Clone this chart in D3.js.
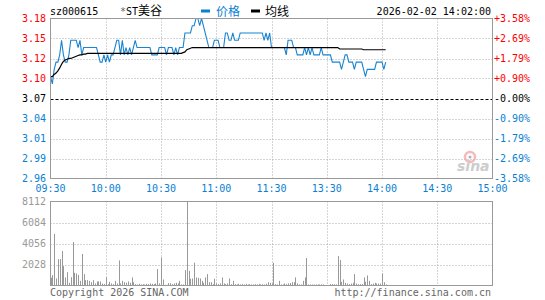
<!DOCTYPE html>
<html>
<head>
<meta charset="utf-8">
<script src="https://cdn.jsdelivr.net/npm/d3@7"></script>
<style>
  html, body { margin: 0; padding: 0; background: #fff; }
  svg { display: block; }
  text { font-family: "DejaVu Sans Mono", "Liberation Mono", monospace; font-size: 10px; }
  .cjk { font-family: "Noto Sans CJK SC", sans-serif; font-size: 12px; }
</style>
</head>
<body>
<svg id="chart" width="545" height="300"></svg>
<script>
const code = "sz000615"
const stockName = "*ST美谷"
const stamp = "2026-02-02 14:02:00"
const preClose = 3.07
const maxPct = 3.58

// per minute, 09:30 = minute 0, 13:00 continues at minute 120
const prices = [
  3.10,3.09,3.11,3.12,3.12,3.13,3.15,3.13,3.12,3.12,
  3.13,3.15,3.15,3.15,3.15,3.14,3.15,3.13,3.14,3.14,
  3.14,3.14,3.14,3.14,3.14,3.14,3.13,3.12,3.12,3.13,
  3.12,3.13,3.12,3.13,3.13,3.14,3.15,3.15,3.13,3.15,
  3.13,3.14,3.13,3.14,3.13,3.14,3.15,3.14,3.14,3.14,
  3.14,3.14,3.14,3.14,3.14,3.13,3.13,3.13,3.13,3.14,
  3.14,3.14,3.14,3.13,3.14,3.14,3.14,3.13,3.14,3.13,
  3.14,3.14,3.14,3.16,3.16,3.16,3.16,3.17,3.17,3.18,
  3.18,3.17,3.18,3.17,3.16,3.15,3.14,3.14,3.14,3.15,
  3.15,3.15,3.14,3.14,3.14,3.16,3.16,3.15,3.15,3.16,
  3.15,3.15,3.15,3.16,3.16,3.16,3.16,3.16,3.16,3.16,
  3.16,3.16,3.16,3.16,3.16,3.16,3.15,3.16,3.15,3.16,
  3.14,3.14,3.14,3.14,3.14,3.14,3.14,3.14,3.13,3.15,
  3.15,3.15,3.14,3.14,3.13,3.13,3.13,3.13,3.14,3.13,
  3.14,3.13,3.14,3.13,3.13,3.13,3.13,3.14,3.13,3.13,
  3.13,3.13,3.13,3.12,3.12,3.12,3.12,3.12,3.11,3.12,
  3.13,3.13,3.12,3.12,3.12,3.11,3.12,3.12,3.12,3.12,
  3.11,3.10,3.11,3.11,3.11,3.11,3.11,3.12,3.12,3.12,
  3.12,3.11,3.12
]

const avgPrices = [
  3.100,3.100,3.103,3.105,3.108,3.112,3.117,3.121,3.123,3.124,
  3.125,3.125,3.126,3.127,3.128,3.129,3.130,3.130,3.131,3.131,
  3.132,3.132,3.132,3.132,3.132,3.132,3.132,3.132,3.132,3.132,
  3.132,3.132,3.132,3.132,3.132,3.132,3.132,3.132,3.132,3.132,
  3.132,3.132,3.132,3.132,3.132,3.132,3.132,3.132,3.132,3.132,
  3.132,3.132,3.132,3.132,3.132,3.132,3.132,3.132,3.132,3.132,
  3.132,3.132,3.132,3.132,3.132,3.132,3.132,3.132,3.132,3.132,
  3.132,3.132,3.133,3.134,3.137,3.138,3.139,3.140,3.140,3.140,
  3.140,3.140,3.140,3.140,3.140,3.140,3.140,3.140,3.140,3.140,
  3.140,3.140,3.140,3.140,3.140,3.140,3.140,3.140,3.140,3.140,
  3.140,3.140,3.140,3.140,3.140,3.140,3.140,3.140,3.140,3.140,
  3.140,3.140,3.140,3.140,3.140,3.140,3.140,3.140,3.140,3.140,
  3.140,3.140,3.140,3.140,3.140,3.140,3.140,3.140,3.140,3.140,
  3.140,3.140,3.140,3.140,3.140,3.140,3.140,3.140,3.140,3.140,
  3.140,3.140,3.140,3.140,3.140,3.140,3.140,3.140,3.140,3.140,
  3.140,3.140,3.140,3.140,3.140,3.140,3.140,3.138,3.138,3.138,
  3.138,3.138,3.138,3.138,3.138,3.138,3.138,3.138,3.138,3.138,
  3.137,3.137,3.137,3.137,3.137,3.137,3.137,3.137,3.137,3.137,
  3.137,3.137,3.137
]

const volumes = [
  750,1000,4980,680,2550,2550,3330,1870,780,1290,
  260,810,4200,1230,1160,1030,450,3040,1100,520,
  520,450,320,520,200,390,390,390,200,150,
  780,130,360,200,130,450,200,2420,200,450,
  320,260,390,260,780,320,130,100,160,100,
  130,100,160,130,200,160,130,200,1580,200,
  2710,580,60,60,230,230,130,200,260,200,
  450,100,100,1490,8112,1420,650,680,2200,780,
  740,680,450,260,780,1100,320,320,130,650,
  200,130,200,780,200,130,200,680,130,450,
  130,100,160,100,130,100,160,100,130,100,
  100,130,100,160,100,130,100,160,320,260,
  190,2200,130,100,450,100,100,200,130,200,
  230,320,320,780,200,100,100,450,780,2650,
  100,100,100,100,100,100,100,100,100,30,
  30,30,130,130,130,100,2840,2460,360,580,
  260,190,130,190,260,1100,190,130,130,130,
  780,360,970,450,130,190,260,190,190,190,
  1160,320,100
]

const timeTicks = [0, 30, 60, 90, 120, 150, 180, 210, 240]
const timeLabels = ["09:30","10:00","10:30","11:00","11:30","13:30","14:00","14:30","15:00"]
const pctTicks = [3.58, 2.69, 1.79, 0.90, 0, -0.90, -1.79, -2.69, -3.58]
const priceLabels = ["3.18","3.15","3.12","3.10","3.07","3.04","3.01","2.99","2.96"]
const pctLabels = ["+3.58%","+2.69%","+1.79%","+0.90%","-0.00%","-0.90%","-1.79%","-2.69%","-3.58%"]
const volTicks = [8112, 6084, 4056, 2028]

const RED = "#f00", BLUE = "#0a80d2", GRAY = "#999"

const svg = d3.select("#chart")
const left = 50.5, right = 492.5

var x = d3.scaleLinear().domain([0, 240]).range([left, right])
var yPct = d3.scaleLinear().domain([-maxPct, maxPct]).range([178.5, 18.5])
var yPrice = p => yPct((p / preClose - 1) * 100)
var yVol = d3.scaleLinear().domain([0, 8112]).range([285.5, 201.5])

function colorFor(i){
  if (pctTicks[i] > 0) return RED
  if (pctTicks[i] < 0) return BLUE
  return "#000"
}

// header
svg.append("text").attr("x", 50).attr("y", 15).attr("fill", "#000").text(code)
const nameT = svg.append("text").attr("x", 120).attr("y", 15).attr("fill", "#000")
nameT.append("tspan").attr("fill", "#666").text(stockName.slice(0, 1))
nameT.append("tspan").text(stockName.slice(1, 3))
nameT.append("tspan").attr("class", "cjk").text(stockName.slice(3))

svg.append("rect").attr("x", 201).attr("y", 9.5).attr("width", 9).attr("height", 3).attr("fill", BLUE)
svg.append("text").attr("class", "cjk").attr("x", 216).attr("y", 15.5).attr("fill", BLUE).text("价格")
svg.append("rect").attr("x", 251).attr("y", 9.5).attr("width", 9).attr("height", 3).attr("fill", "#000")
svg.append("text").attr("class", "cjk").attr("x", 265).attr("y", 15.5).attr("fill", "#000").text("均线")
svg.append("text").attr("x", 491).attr("y", 15).attr("text-anchor", "end").attr("fill", "#000").text(stamp)

// price panel grid
const grid = svg.append("g")
grid.selectAll(".hg")
  .data(pctTicks.filter(d => d !== 0 && Math.abs(d) !== maxPct))
  .enter().append("line")
  .attr("x1", left).attr("x2", right)
  .attr("y1", d => Math.round(yPct(d)) + 0.5).attr("y2", d => Math.round(yPct(d)) + 0.5)
  .attr("stroke", "#aaa").attr("stroke-dasharray", "1,2")
grid.selectAll(".vg")
  .data(timeTicks.slice(1, -1))
  .enter().append("line")
  .attr("x1", d => Math.round(x(d)) + 0.5).attr("x2", d => Math.round(x(d)) + 0.5)
  .attr("y1", 18.5).attr("y2", 178.5)
  .attr("stroke", "#aaa").attr("stroke-dasharray", "1,2")
grid.append("line")
  .attr("x1", left).attr("x2", right)
  .attr("y1", Math.round(yPct(0)) + 0.5).attr("y2", Math.round(yPct(0)) + 0.5)
  .attr("stroke", "#000").attr("stroke-dasharray", "3,2")

// sina watermark
const logo = svg.append("g").attr("opacity", 0.75)
logo.append("circle").attr("cx", 470).attr("cy", 157).attr("r", 5).attr("fill", "none").attr("stroke", "#f3a3a3").attr("stroke-width", 2.5)
logo.append("circle").attr("cx", 470).attr("cy", 157).attr("r", 1.5).attr("fill", "#999")
logo.append("text").attr("x", 457).attr("y", 171)
  .style("font-family", "DejaVu Sans").style("font-size", "14px").style("font-weight", "bold").style("font-style", "italic")
  .attr("fill", "#bbb").text("sina")

// lines
const line = d3.line().x((d, i) => x(i)).y(d => yPrice(d))
svg.append("path").datum(prices).attr("d", line)
  .attr("fill", "none").attr("stroke", "#1a84d0").attr("stroke-width", 1.1)
svg.append("path").datum(avgPrices).attr("d", line)
  .attr("fill", "none").attr("stroke", "#000").attr("stroke-width", 1.2)

svg.append("rect").attr("x", left).attr("y", 18.5).attr("width", right - left).attr("height", 160)
  .attr("fill", "none").attr("stroke", GRAY)

// axis labels
svg.selectAll(".pl").data(priceLabels).enter().append("text")
  .attr("x", 46).attr("y", (d, i) => yPct(pctTicks[i])).attr("dy", "0.35em")
  .attr("text-anchor", "end").attr("fill", (d, i) => colorFor(i)).text(d => d)
svg.selectAll(".pc").data(pctLabels).enter().append("text")
  .attr("x", 494).attr("y", (d, i) => yPct(pctTicks[i])).attr("dy", "0.35em")
  .attr("fill", (d, i) => colorFor(i)).text(d => d)
svg.selectAll(".tl").data(timeLabels).enter().append("text")
  .attr("x", (d, i) => x(timeTicks[i])).attr("y", 188).attr("dy", "0.35em")
  .attr("text-anchor", "middle").attr("fill", BLUE).text(d => d)

// volume panel
const vg = svg.append("g")
vg.selectAll(".vh").data(volTicks.slice(1)).enter().append("line")
  .attr("x1", left).attr("x2", right)
  .attr("y1", d => Math.round(yVol(d)) + 0.5).attr("y2", d => Math.round(yVol(d)) + 0.5)
  .attr("stroke", "#aaa").attr("stroke-dasharray", "1,2")
vg.selectAll(".vv").data(timeTicks.slice(1, -1)).enter().append("line")
  .attr("x1", d => Math.round(x(d)) + 0.5).attr("x2", d => Math.round(x(d)) + 0.5)
  .attr("y1", 201.5).attr("y2", 285.5)
  .attr("stroke", "#aaa").attr("stroke-dasharray", "1,2")
vg.selectAll(".bar").data(volumes).enter().append("line")
  .attr("x1", (d, i) => Math.round(x(i)) + 0.5).attr("x2", (d, i) => Math.round(x(i)) + 0.5)
  .attr("y1", yVol(0)).attr("y2", d => yVol(d))
  .attr("stroke", "#999").attr("stroke-width", 1)
vg.append("rect").attr("x", left).attr("y", 201.5).attr("width", right - left).attr("height", 84)
  .attr("fill", "none").attr("stroke", GRAY)
vg.selectAll(".vl").data(volTicks).enter().append("text")
  .attr("x", 46).attr("y", d => yVol(d)).attr("dy", "0.35em")
  .attr("text-anchor", "end").attr("fill", "#999").text(d => d)

// footer
svg.append("text").attr("x", 50).attr("y", 292).attr("dy", "0.35em").attr("fill", "#666").text("Copyright 2026 SINA.COM")
svg.append("text").attr("x", 491).attr("y", 292).attr("dy", "0.35em").attr("text-anchor", "end").attr("fill", "#666").text("http://finance.sina.com.cn")
</script>
</body>
</html>
